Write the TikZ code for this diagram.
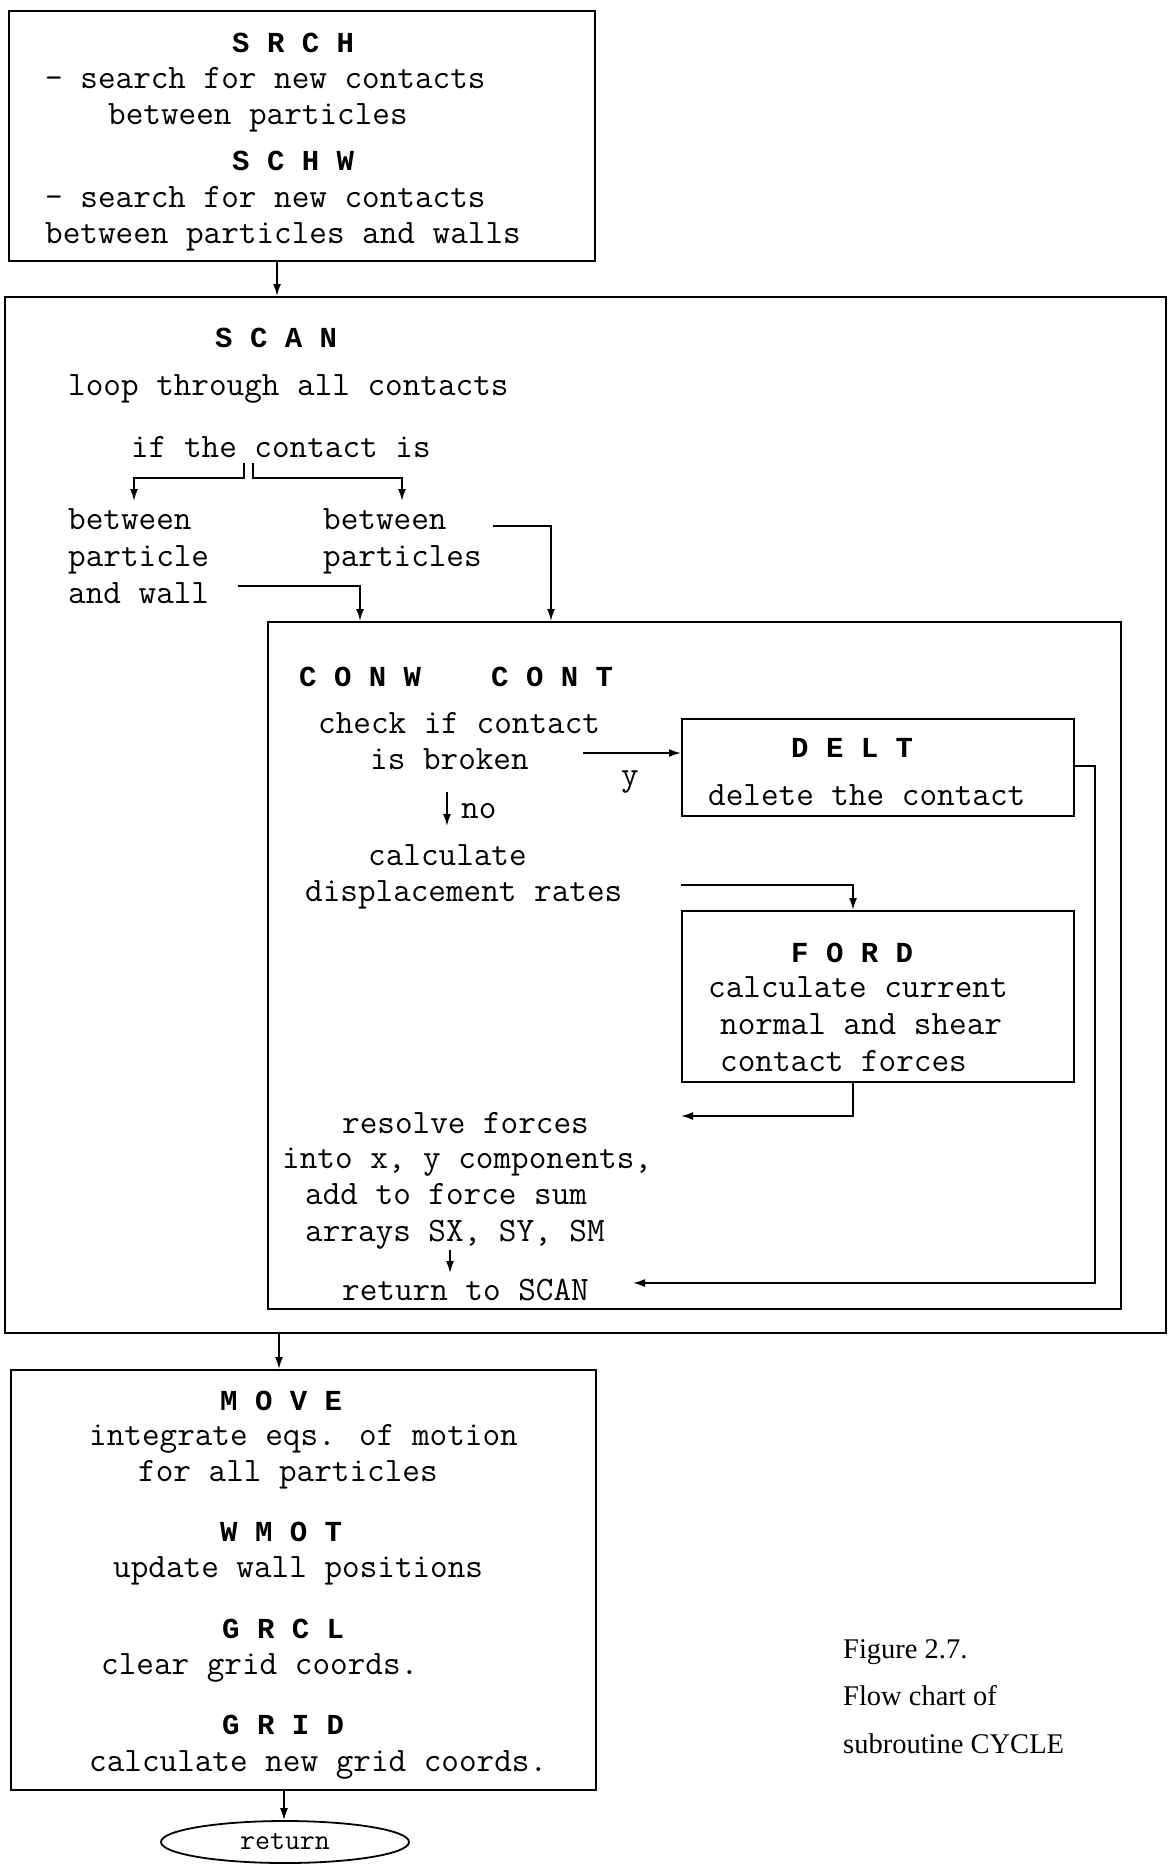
\documentclass[tikz,border=0pt]{standalone}
\usepackage{fontspec}
\newfontfamily\hdfont{Liberation Mono}
\setmainfont{Liberation Serif}
\usetikzlibrary{arrows.meta,shapes.geometric}
\begin{document}
\begin{tikzpicture}[x=1pt,y=-1pt,
  tx/.style={font=\fontsize{34.2}{36}\selectfont\ttfamily, inner sep=0pt, anchor=base west},
  hd/.style={font=\fontsize{29}{36}\selectfont\hdfont\bfseries, inner sep=0pt, anchor=base west},
  capt/.style={font=\fontsize{28.5}{34}\selectfont\rmfamily, inner sep=0pt, anchor=base west},
  bx/.style={draw, line width=2.2pt, inner sep=0pt, anchor=north west},
  arr/.style={-{Latex[length=12pt,width=8pt]}, line width=1.8pt}]
\fill[white] (0,0) rectangle (1168,1864);
\useasboundingbox (0,0) rectangle (1168,1864);

% boxes
\node[bx, minimum width=586, minimum height=250] (top) at (8,10) {};
\node[bx, minimum width=1161, minimum height=1036] (scan) at (4,296) {};
\node[bx, minimum width=853, minimum height=687] (conw) at (267,621) {};
\node[bx, minimum width=392, minimum height=97] (delt) at (681,718) {};
\node[bx, minimum width=392, minimum height=171] (ford) at (681,910) {};
\node[bx, minimum width=585, minimum height=420] (move) at (10,1369) {};
\node[draw, ellipse, line width=1.8pt, minimum width=248, minimum height=42, inner sep=0pt,
      font=\fontsize{29}{30}\selectfont\ttfamily] (ret) at (285,1842) {return};

% top box text
\node[hd] (srch) at (232,52) {S R C H};
\node[tx] (srch1) at (45,88) {- search for new contacts};
\node[tx] (srch2) at (108,124) {between particles};
\node[hd] (schw) at (232,170) {S C H W};
\node[tx] (schw1) at (45,207) {- search for new contacts};
\node[tx] (schw2) at (45,243) {between particles and walls};

% scan text
\node[hd] (scant) at (215,347) {S C A N};
\node[tx] (loop) at (68,395) {loop through all contacts};
\node[tx] (ifc) at (131,457) {if the contact is};
\node[tx] (bw1) at (68,529) {between};
\node[tx] (bw2) at (68,566) {particle};
\node[tx] (bw3) at (68,603) {and wall};
\node[tx] (bp1) at (323,529) {between};
\node[tx] (bp2) at (323,566) {particles};

% conw text
\node[hd] (conwt) at (299,686) {C O N W};
\node[hd] (contt) at (491,686) {C O N T};
\node[tx] (chk1) at (318,733) {check if contact};
\node[tx] (chk2) at (370,769) {is broken};
\node[tx] (ylab) at (621,785) {y};
\node[tx] (nolab) at (461,818) {no};
\node[tx] (calc1) at (368,865) {calculate};
\node[tx] (calc2) at (305,901) {displacement rates};
\node[hd] (deltt) at (791,757) {D E L T};
\node[tx] (delt1) at (708,805) {delete the contact};
\node[hd] (fordt) at (791,962) {F O R D};
\node[tx] (ford1) at (708,997) {calculate current};
\node[tx] (ford2) at (720,1034) {normal and shear};
\node[tx] (ford3) at (720,1071) {contact forces};
\node[tx] (res1) at (342,1133) {resolve forces};
\node[tx] (res2) at (282,1168) {into x, y components,};
\node[tx] (res3) at (305,1204) {add to force sum};
\node[tx] (res4) at (305,1241) {arrays SX, SY, SM};
\node[tx] (rts) at (342,1300) {return to SCAN};

% move text
\node[hd] (movet) at (220,1410) {M O V E};
\node[tx] (mv1) at (89,1445) {integrate eqs. of motion};
\node[tx] (mv2) at (138,1481) {for all particles};
\node[hd] (wmot) at (220,1541) {W M O T};
\node[tx] (wm1) at (113,1577) {update wall positions};
\node[hd] (grcl) at (222,1638) {G R C L};
\node[tx] (gc1) at (101,1674) {clear grid coords.};
\node[hd] (grid) at (222,1734) {G R I D};
\node[tx] (gd1) at (89,1771) {calculate new grid coords.};

% caption
\node[capt] (fig1) at (843,1658) {Figure 2.7.};
\node[capt] (fig2) at (843,1705) {Flow chart of};
\node[capt] (fig3) at (843,1753) {subroutine CYCLE};

% coordinates for connectors
\coordinate (xa) at (277,0);
\coordinate (bl0) at (244,463); \coordinate (bl1) at (244,478); \coordinate (bl2) at (134,478); \coordinate (bl3) at (134,501);
\coordinate (br0) at (253,463); \coordinate (br1) at (253,478); \coordinate (br2) at (402,478); \coordinate (br3) at (402,501);
\coordinate (aw0) at (238,586); \coordinate (aw1) at (360,586);
\coordinate (ap0) at (493,526); \coordinate (ap1) at (551,526);
\coordinate (yb0) at (583,753);
\coordinate (dr0) at (1095,766); \coordinate (dr1) at (1095,1283); \coordinate (dr2) at (633,1283);
\coordinate (no0) at (447,792); \coordinate (no1) at (447,826);
\coordinate (dp0) at (681,885); \coordinate (dp1) at (853,885);
\coordinate (fb1) at (853,1116); \coordinate (fb2) at (681,1116);
\coordinate (ar0) at (450,1250); \coordinate (ar1) at (450,1273);
\coordinate (xm) at (279,0);
\coordinate (xr) at (284,0);

% connectors
\draw[arr] (top.south -| xa) -- (scan.north -| xa);
\draw[arr] (bl0) -- (bl1) -- (bl2) -- (bl3);
\draw[arr] (br0) -- (br1) -- (br2) -- (br3);
\draw[arr] (aw0) -- (aw1) -- (conw.north -| aw1);
\draw[arr] (ap0) -- (ap1) -- (conw.north -| ap1);
\draw[arr] (yb0) -- (delt.west |- yb0);
\draw[arr] (delt.east |- dr0) -- (dr0) -- (dr1) -- (dr2);
\draw[arr] (no0) -- (no1);
\draw[arr] (dp0) -- (dp1) -- (ford.north -| dp1);
\draw[arr] (ford.south -| fb1) -- (fb1) -- (fb2);
\draw[arr] (ar0) -- (ar1);
\draw[arr] (scan.south -| xm) -- (move.north -| xm);
\draw[arr] (move.south -| xr) -- (ret.north -| xr);
\end{tikzpicture}
\end{document}
